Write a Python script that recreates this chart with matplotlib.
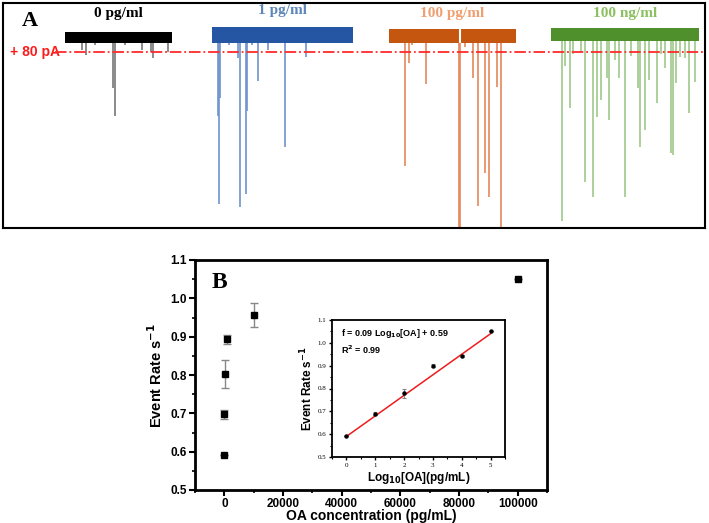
import matplotlib
matplotlib.use("Agg")
import matplotlib.pyplot as plt
import numpy as np
from matplotlib.ticker import MultipleLocator, FormatStrFormatter

plt.rcParams["mathtext.default"] = "bf"

# ---------------- Panel A data (time in s relative to trace start, current in pA) ----------------
trace_labels = ["0 pg/ml", "1 pg/ml", "100 pg/ml", "100 ng/ml"]
trace_duration = [107, 141, 127, 148]
trace_baseline = [-7, 5, 0, 7]
trace_noise = [27, 40, 35, 32]

black_t = [17, 21, 48, 50, 77, 86, 88, 103, 30, 60]
black_i = [-70, -95, -260, -400, -70, -80, -110, -80, -45, -45]

blue_t = [6, 7, 8, 26, 28, 34, 35, 46, 56, 73, 94, 17, 40]
blue_i = [-400, -840, -310, -110, -855, -790, -375, -225, -70, -555, -105, -45, -45]

orange_t = [16, 20, 37, 70, 71, 76, 84, 89, 96, 100, 108, 112, 23]
orange_i = [-650, -135, -240, -960, -960, -55, -210, -850, -685, -805, -255, -955, -45]

green_t = [11, 14, 19, 34, 42, 46, 50, 56, 58, 64, 68, 74, 89, 94, 98, 106,
           114, 120, 122, 125, 129, 134, 138, 144, 87, 22, 30, 80, 110]
green_i = [-925, -150, -360, -730, -805, -405, -320, -210, -420, -120, -210, -805,
           -555, -470, -220, -335, -160, -585, -595, -235, -105, -110, -385, -230,
           -260, -90, -80, -100, -90]

threshold = -80

# ---------------- Panel B data ----------------
conc = [1, 10, 100, 1000, 10000, 100000]
rate = [0.592, 0.697, 0.803, 0.893, 0.956, 1.050]
rate_err = [0.0, 0.012, 0.037, 0.012, 0.031, 0.0]

log_conc = [0, 1, 2, 3, 4, 5]
log_rate = [0.592, 0.690, 0.780, 0.900, 0.942, 1.050]
log_err = [0.0, 0.006, 0.020, 0.008, 0.006, 0.0]
fit_slope = 0.09
fit_intercept = 0.59

# ---------------- Figure ----------------
W, H = 709, 523
fig = plt.figure(figsize=(W / 100, H / 100), dpi=100)

def fr(x0, y0, x1, y1):
    return [x0 / W, 1 - y1 / H, (x1 - x0) / W, (y1 - y0) / H]

# Panel A
axA = fig.add_axes(fr(3, 3, 705, 228))
axA.set_xlim(0, 702)
axA.set_ylim(-960, 165)
axA.set_xticks([])
axA.set_yticks([])
for s in axA.spines.values():
    s.set_linewidth(1.5)

starts = [62, 209, 386, 548]
base_cols = ["#000000", "#2456a4", "#c4560f", "#4f8f2c"]
spike_cols = ["#777777", "#6f93cc", "#e5885a", "#9fc88a"]
label_cols = ["#000000", "#5d86b8", "#f0a070", "#8cc060"]
label_y = [110, 128, 112, 112]
spike_t = [black_t, blue_t, orange_t, green_t]
spike_i = [black_i, blue_i, orange_i, green_i]

for k in range(4):
    st = starts[k]
    dur = trace_duration[k]
    b = trace_baseline[k]
    hw = trace_noise[k]
    t = np.array(spike_t[k]) + st
    axA.vlines(t, b, spike_i[k], color=spike_cols[k], lw=1.2, zorder=2)
    axA.fill_between([st, st + dur], b - hw, b + hw, color=base_cols[k], lw=0, zorder=3)
    axA.text(st + dur / 2, label_y[k], trace_labels[k], ha="center", va="center",
             fontsize=11, fontweight="bold", family="Liberation Serif", color=label_cols[k])

# orange gap
axA.vlines([386 + 71], trace_baseline[2] - 35, trace_baseline[2] + 35, color="white", lw=1.5, zorder=4)

axA.plot([52, 702], [threshold, threshold], color="#ff2a2a", lw=1.3, ls="-.", zorder=5)
axA.text(7, threshold, "+ 80 pA", color="#ff1a1a", fontsize=10, fontweight="bold",
         family="Liberation Sans", va="center", ha="left")
axA.text(19, 75, "A", fontsize=16, fontweight="bold", family="Liberation Serif", va="center")

# Panel B
axB = fig.add_axes(fr(195, 260, 547, 490))
axB.errorbar(conc, rate, yerr=rate_err, fmt="s", color="black", ms=4.2,
             ecolor="#888888", elinewidth=1, capsize=3, capthick=1)
axB.set_xlim(-10000, 110000)
axB.set_ylim(0.5, 1.1)
axB.xaxis.set_major_locator(MultipleLocator(20000))
axB.xaxis.set_minor_locator(MultipleLocator(10000))
axB.yaxis.set_major_locator(MultipleLocator(0.1))
axB.yaxis.set_minor_locator(MultipleLocator(0.05))
axB.set_xticks([0, 20000, 40000, 60000, 80000, 100000])
axB.tick_params(which="major", direction="out", length=4, width=1.5, labelsize=8.5, pad=2)
axB.tick_params(which="minor", direction="out", length=2.5, width=1.2)
for lab in axB.get_xticklabels() + axB.get_yticklabels():
    lab.set_fontweight("bold")
    lab.set_family("Liberation Sans")
for s in axB.spines.values():
    s.set_linewidth(2)
axB.set_xlabel("OA concentration (pg/mL)", fontsize=10, fontweight="bold",
               family="Liberation Sans")
axB.xaxis.set_label_coords(0.5, -0.082)
axB.set_ylabel("Event Rate s$^{-1}$", fontsize=10.5, fontweight="bold",
               family="Liberation Sans", labelpad=4)
axB.text(0.07, 0.9, "B", transform=axB.transAxes, fontsize=17, fontweight="bold",
         family="Liberation Serif", va="center", ha="center")

# Inset
axI = fig.add_axes(fr(332, 320, 505, 457))
xf = np.array([log_conc[0], log_conc[-1]])
axI.plot(xf, fit_slope * xf + fit_intercept, color="#ee1c1c", lw=1.1, zorder=1)
axI.errorbar(log_conc, log_rate, yerr=log_err, fmt="o", color="black", ms=2.2,
             ecolor="#888888", elinewidth=0.8, capsize=1.5, capthick=0.8, zorder=2)
axI.set_xlim(-0.5, 5.5)
axI.set_ylim(0.5, 1.1)
axI.xaxis.set_major_locator(MultipleLocator(1))
axI.xaxis.set_minor_locator(MultipleLocator(0.5))
axI.yaxis.set_major_locator(MultipleLocator(0.1))
axI.yaxis.set_minor_locator(MultipleLocator(0.05))
axI.tick_params(which="major", direction="out", length=2.5, width=1, labelsize=5, pad=1.5)
axI.tick_params(which="minor", direction="out", length=1.5, width=0.8)
for lab in axI.get_xticklabels() + axI.get_yticklabels():
    lab.set_family("Liberation Serif")
axI.yaxis.set_major_formatter(FormatStrFormatter("%.1f"))
for s in axI.spines.values():
    s.set_linewidth(1.3)
axI.set_xlabel("Log$_{10}$[OA](pg/mL)", fontsize=8.5, fontweight="bold",
               family="Liberation Sans", labelpad=2)
axI.set_ylabel("Event Rate s$^{-1}$", fontsize=8.5, fontweight="bold",
               family="Liberation Sans", labelpad=2)
axI.text(0.05, 0.9, "f = 0.09 Log$_{10}$[OA] + 0.59", transform=axI.transAxes,
         fontsize=6.5, fontweight="bold", family="Liberation Sans", va="center")
axI.text(0.05, 0.78, "R$^{2}$ = 0.99", transform=axI.transAxes,
         fontsize=6.5, fontweight="bold", family="Liberation Sans", va="center")

fig.savefig("out.png", dpi=100)
